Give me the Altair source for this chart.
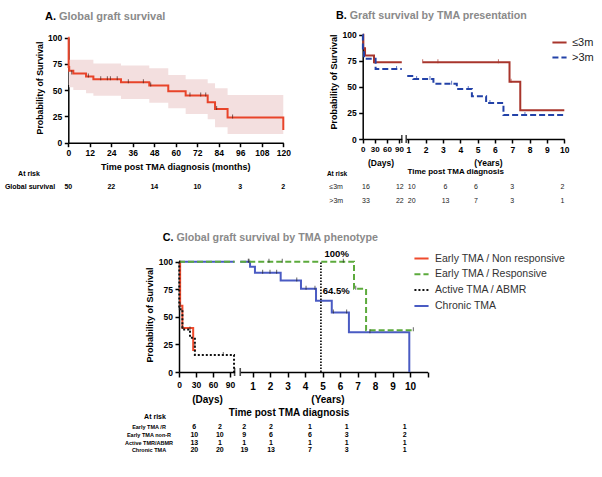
import altair as alt
import pandas as pd

FONT = "Liberation Sans"
W, H = 602, 477
GRAY = "#8a8a8a"

# ---------------- Panel A : global graft survival (months) ----------------
a_time = [0, 0.2, 0.5, 2.8, 9.9, 14, 29.4, 45.2, 55.8, 65.5, 77.8, 81.9, 88.9, 120]
a_surv = [100, 72, 68.5, 66, 63, 60.5, 57.5, 54.5, 49, 45, 38.5, 32, 24, 12]
a_ci_time = [0.2, 0.5, 2.8, 9.9, 14, 29.4, 45.2, 55.8, 65.5, 77.8, 81.9, 88.9, 120]
a_ci_low = [55, 52.8, 50.2, 47, 44.8, 41.6, 38.1, 32.8, 27.3, 22.3, 14.7, 8.3, 8.3]
a_ci_high = [79, 79, 79, 79, 75.5, 73.5, 70.9, 64.5, 60.4, 56.6, 51.8, 45.4, 45.4]
a_cens_time = [1.9, 11.2, 18.1, 21.8, 23.5, 27.3, 33.5, 41.9, 46, 67.9, 73.9, 76.7, 82.8, 91.7]
a_cens_surv = [66, 63, 60.5, 60.5, 60.5, 60.5, 57.5, 57.5, 54.5, 45, 45, 45, 32, 24]
a_ticks = [0, 12, 24, 36, 48, 60, 72, 84, 96, 108, 120]
a_risk_time = [0, 24, 48, 72, 96, 120]
a_risk_n = [50, 22, 14, 10, 3, 2]

# ---------------- Panel B : by TMA presentation ----------------
b_groups = ["≤3m", ">3m"]
b_le_days_t = [0, 1.6, 5.8, 28, 97]
b_le_days_s = [100, 87, 80, 73.5, 73.5]
b_le_yrs_t = [1.83, 6.84, 7.46, 10]
b_le_yrs_s = [73.5, 55, 27.5, 27.5]
b_gt_days_t = [0, 0.5, 3.3, 32, 97]
b_gt_days_s = [100, 85, 77, 67, 67]
b_gt_yrs_t = [0.94, 1.29, 2.45, 3.8, 4.67, 5.49, 6.49, 10]
b_gt_yrs_s = [60.5, 57.5, 53, 48, 41, 34.5, 23, 23]
b_cens_le_days_t = [29]
b_cens_le_days_s = [73.5]
b_cens_le_yrs_t = [1.83, 2.71, 6.2, 6.93]
b_cens_le_yrs_s = [73.5, 73.5, 73.5, 55]
b_cens_gt_days_t = [84]
b_cens_gt_days_s = [67]
b_cens_gt_yrs_t = [1.48, 2.25, 3.5, 4.46, 5.71, 7.73]
b_cens_gt_yrs_s = [57.5, 57.5, 53, 48, 34.5, 23]
b_day_ticks = [0, 30, 60, 90]
b_year_ticks = [1, 2, 3, 4, 5, 6, 7, 8, 9, 10]
b_risk_days = [8, 92]
b_risk_years = [1.2, 3.15, 4.9, 7.0, 9.9]
b_risk_le = [16, 12, 10, 6, 6, 3, 2]
b_risk_gt = [33, 22, 20, 13, 7, 3, 1]

# ---------------- Panel C : by TMA phenotype ----------------
c_groups = ["Early TMA / Non responsive", "Early TMA / Responsive", "Active TMA / ABMR", "Chronic TMA"]
c_red_days_t = [0, 2, 6, 25, 29.5]
c_red_days_s = [100, 60, 40, 20, 20]
c_blk_days_t = [0, 0.5, 6, 19.4, 28, 97]
c_blk_days_s = [100, 57, 38.5, 31, 15.5, 0]
c_grn_days_t = [0, 98]
c_grn_days_s = [100, 100]
c_blu_days_t = [0, 98]
c_blu_days_s = [100, 100]
c_grn_yrs_t = [0.3, 6.8, 7.49, 10.19]
c_grn_yrs_s = [100, 75.4, 37.8, 37.8]
c_blu_yrs_t = [0.3, 0.86, 1.14, 2.61, 3.77, 4.63, 5.53, 6.51, 9.96]
c_blu_yrs_s = [100, 95.5, 90, 83, 75.5, 64.5, 54, 36, 0]
c_cens_blu_t = [0.8, 1.58, 2.0, 2.38, 3.53, 4.06, 4.57, 5.62, 6.38, 7.71]
c_cens_blu_s = [100, 90, 90, 90, 83, 75.5, 75.5, 54, 54, 36]
c_cens_grn_t = [0.76, 1.94, 2.7, 6.19, 6.9, 10.19]
c_cens_grn_s = [100, 100, 100, 100, 75.4, 37.8]
c_cens_blk_t = [0.5, 19.4, 28, 78]
c_cens_blk_s = [57, 38.5, 23, 15.5]
c_cens_red_t = [2, 6]
c_cens_red_s = [60, 40]
c_ref_year = [4.91]
c_day_ticks = [0, 30, 60, 90]
c_year_ticks = [1, 2, 3, 4, 5, 6, 7, 8, 9, 10, 11]
c_risk_rows = ["Early TMA /R", "Early TMA non-R", "Active TMR/ABMR", "Chronic TMA"]
c_risk_days = [27, 72]
c_risk_years = [0.53, 2.06, 4.29, 6.38, 9.7]
c_risk_vals = [
    [6, 2, 2, 2, 1, 1, 1],
    [10, 10, 9, 6, 6, 3, 2],
    [13, 1, 1, 1, 1, 1, 1],
    [20, 20, 19, 13, 7, 3, 1],
]

# ---------------- styling / layout ----------------
A_RED, A_BAND = "#E8442A", "#F3DFDF"
B_RED, B_BLUE = "#A8352C", "#2342A8"
C_COLORS = ["#EF4B2D", "#5CAA3C", "#111111", "#4A5BC3"]
C_DASH = [[1, 0], [6, 3], [2, 2], [1, 0]]

SCALES = {
    "A_x": ([0, 120], [68.3, 283.3]),
    "A_y": ([0, 100], [142.7, 37.7]),
    "Bd_x": ([0, 97], [362.7, 401.8]),
    "By_x": ([0.88, 10], [406.2, 564.3]),
    "B_y": ([0, 100], [139, 34.7]),
    "Cd_x": ([0, 98], [179, 234.6]),
    "Cy_x": ([0.3, 11], [240.25, 427.5]),
    "C_y": ([0, 100], [372, 261.7]),
}


def sc(key):
    d, r = SCALES[key]
    return alt.Scale(domain=d, range=r, nice=False, zero=False)


def xq(field, key, axis=None):
    return alt.X(f"{field}:Q", scale=sc(key), axis=axis)


def yq(field, key, axis=None):
    return alt.Y(f"{field}:Q", scale=sc(key), axis=axis)


def x_axis(values, ypix, size=8.5, pad=2.0, expr=None, tick=4):
    kw = dict(orient="bottom", offset=ypix - H, values=values, title=None, grid=False,
              labelFont=FONT, labelFontSize=size, labelFontWeight="bold", labelColor="black",
              labelPadding=pad, labelFlush=False, labelOverlap=False,
              tickSize=tick, tickWidth=1.5, tickColor="black",
              domainWidth=1.5, domainColor="black")
    if expr:
        kw["labelExpr"] = expr
    return alt.Axis(**kw)


def y_axis(xpix, size=8.5):
    return alt.Axis(orient="left", offset=-xpix, values=[0, 25, 50, 75, 100], title=None, grid=False,
                    labelFont=FONT, labelFontSize=size, labelFontWeight="bold", labelColor="black",
                    labelPadding=2.5, labelFlush=False, labelOverlap=False,
                    tickSize=4, tickWidth=1.5, tickColor="black",
                    domainWidth=1.5, domainColor="black")


def label(text, x, y, size, weight="bold", color="black", align="center", angle=0):
    return alt.Chart(pd.DataFrame({"txt": [text]})).mark_text(
        font=FONT, fontSize=size, fontWeight=weight, color=color, align=align,
        baseline="middle", angle=angle
    ).encode(x=alt.value(x), y=alt.value(y), text="txt:N")


def long_df(series):
    rows = []
    for g, ts, ss in series:
        for t, s in zip(ts, ss):
            rows.append({"group": g, "t": t, "s": s})
    return pd.DataFrame(rows)


def ts_df(ts, ss):
    return pd.DataFrame({"t": ts, "s": ss})


def censor(df, xkey, ykey, color):
    return alt.Chart(df).mark_tick(orient="vertical", size=4, thickness=1, color=color, yOffset=-1).encode(
        x=xq("t", xkey), y=yq("s", ykey))


def break_tick(t, xkey, ykey):
    return alt.Chart(pd.DataFrame({"t": t, "s": [0] * len(t)})).mark_tick(
        orient="vertical", size=8, thickness=1.6, color="black").encode(x=xq("t", xkey), y=yq("s", ykey))


def risk_row(times, counts, xkey, ypix, size=7, weight="bold", color="black"):
    return alt.Chart(pd.DataFrame({"t": times, "n": counts})).mark_text(
        font=FONT, fontSize=size, fontWeight=weight, color=color, baseline="middle"
    ).encode(x=xq("t", xkey), y=alt.value(ypix), text="n:Q")


layers = []

# ======== Panel A ========
layers.append(
    alt.Chart(pd.DataFrame({"t": a_ci_time, "lo": a_ci_low, "hi": a_ci_high}))
    .mark_area(interpolate="step-after", color=A_BAND, opacity=1)
    .encode(x=xq("t", "A_x"), y=yq("lo", "A_y"), y2="hi:Q")
)
layers.append(
    alt.Chart(ts_df(a_time, a_surv))
    .mark_line(interpolate="step-after", color=A_RED, strokeWidth=2)
    .encode(x=xq("t", "A_x", x_axis(a_ticks, 142.7)), y=yq("s", "A_y", y_axis(68.3)))
)
layers.append(censor(ts_df(a_cens_time, a_cens_surv), "A_x", "A_y", "#4a1f18"))
layers.append(risk_row(a_risk_time, a_risk_n, "A_x", 187.3))
layers += [
    label("A.", 45, 16.7, 11, align="left"),
    label("Global graft survival", 59, 16.7, 11, color=GRAY, align="left"),
    label("Probability of Survival", 40, 88, 8.8, angle=270),
    label("Time post TMA diagnosis (months)", 175.7, 166.7, 9),
    label("At risk", 29, 174.3, 7),
    label("Global survival", 30, 187.3, 7),
]

# ======== Panel B ========
b_color = alt.Scale(domain=b_groups, range=[B_RED, B_BLUE])
b_dash = alt.Scale(domain=b_groups, range=[[1, 0], [6, 3]])
b_legend = alt.Legend(orient="none", legendX=551, legendY=34, title=None, labelFont=FONT,
                      labelFontSize=11, labelColor="#222", symbolType="stroke", symbolSize=200,
                      symbolStrokeWidth=2, labelOffset=4, rowPadding=1, padding=0)

b_days_df = long_df([(b_groups[0], b_le_days_t, b_le_days_s), (b_groups[1], b_gt_days_t, b_gt_days_s)])
b_yrs_df = long_df([(b_groups[0], b_le_yrs_t, b_le_yrs_s), (b_groups[1], b_gt_yrs_t, b_gt_yrs_s)])

layers.append(
    alt.Chart(b_days_df).mark_line(interpolate="step-after", strokeWidth=2).encode(
        x=xq("t", "Bd_x", x_axis(b_day_ticks, 139, size=8)),
        y=yq("s", "B_y", y_axis(362.7)),
        color=alt.Color("group:N", scale=b_color, legend=None),
        strokeDash=alt.StrokeDash("group:N", scale=b_dash, legend=None),
    )
)
layers.append(
    alt.Chart(b_yrs_df).mark_line(interpolate="step-after", strokeWidth=2).encode(
        x=xq("t", "By_x", x_axis(b_year_ticks, 139, size=8.5)),
        y=yq("s", "B_y"),
        color=alt.Color("group:N", scale=b_color, legend=b_legend),
        strokeDash=alt.StrokeDash("group:N", scale=b_dash, legend=b_legend),
    )
)
layers.append(censor(ts_df(b_cens_le_days_t, b_cens_le_days_s), "Bd_x", "B_y", B_RED))
layers.append(censor(ts_df(b_cens_le_yrs_t, b_cens_le_yrs_s), "By_x", "B_y", B_RED))
layers.append(censor(ts_df(b_cens_gt_days_t, b_cens_gt_days_s), "Bd_x", "B_y", B_BLUE))
layers.append(censor(ts_df(b_cens_gt_yrs_t, b_cens_gt_yrs_s), "By_x", "B_y", B_BLUE))
layers.append(break_tick([97], "Bd_x", "B_y"))
layers.append(break_tick([0.88], "By_x", "B_y"))
nd = len(b_risk_days)
for row, ypix in ((b_risk_le, 187.3), (b_risk_gt, 201.3)):
    layers.append(risk_row(b_risk_days, row[:nd], "Bd_x", ypix, size=7, weight="normal", color="#222"))
    layers.append(risk_row(b_risk_years, row[nd:], "By_x", ypix, size=7, weight="normal", color="#222"))
layers += [
    label("B.", 336, 15.7, 10.7, align="left"),
    label("Graft survival by TMA presentation", 349.7, 15.7, 10.7, color=GRAY, align="left"),
    label("Probability of Survival", 334.3, 82, 9, angle=270),
    label("(Days)", 381, 163, 8.5),
    label("(Years)", 488.3, 163, 8.5),
    label("Time post TMA diagnosis", 455.7, 172.3, 8),
    label("At risk", 337, 173.7, 6.5),
    label(b_groups[0], 329.3, 187.3, 7, weight="normal", color="#222", align="left"),
    label(b_groups[1], 329.3, 201.3, 7, weight="normal", color="#222", align="left"),
]

# ======== Panel C ========
c_color = alt.Scale(domain=c_groups, range=C_COLORS)
c_dash = alt.Scale(domain=c_groups, range=C_DASH)
c_legend = alt.Legend(orient="none", legendX=413, legendY=250, title=None, labelFont=FONT,
                      labelFontSize=10.5, labelColor="#333", symbolType="stroke", symbolSize=200,
                      symbolStrokeWidth=2, labelOffset=5, rowPadding=1.8, padding=0)

c_days_df = long_df([
    (c_groups[3], c_blu_days_t, c_blu_days_s),
    (c_groups[0], c_red_days_t, c_red_days_s),
    (c_groups[1], c_grn_days_t, c_grn_days_s),
    (c_groups[2], c_blk_days_t, c_blk_days_s),
])
c_yrs_df = long_df([
    (c_groups[3], c_blu_yrs_t, c_blu_yrs_s),
    (c_groups[1], c_grn_yrs_t, c_grn_yrs_s),
])

layers.append(
    alt.Chart(c_days_df).mark_line(interpolate="step-after", strokeWidth=2).encode(
        x=xq("t", "Cd_x", x_axis(c_day_ticks, 372, size=8.5, pad=3, tick=5)),
        y=yq("s", "C_y", y_axis(179)),
        color=alt.Color("group:N", scale=c_color, legend=None),
        strokeDash=alt.StrokeDash("group:N", scale=c_dash, legend=None),
    )
)
layers.append(
    alt.Chart(c_yrs_df).mark_line(interpolate="step-after", strokeWidth=2).encode(
        x=xq("t", "Cy_x", x_axis(c_year_ticks, 372, size=10, pad=4, tick=5,
                                  expr="datum.value == 11 ? '' : datum.value")),
        y=yq("s", "C_y"),
        color=alt.Color("group:N", scale=c_color, legend=c_legend),
        strokeDash=alt.StrokeDash("group:N", scale=c_dash, legend=c_legend),
    )
)
layers.append(
    alt.Chart(pd.DataFrame({"t": c_ref_year, "lo": [0], "hi": [100]}))
    .mark_rule(color="black", strokeWidth=1.6, strokeDash=[1.5, 1.5])
    .encode(x=xq("t", "Cy_x"), y=yq("lo", "C_y"), y2="hi:Q")
)
layers.append(censor(ts_df(c_cens_blu_t, c_cens_blu_s), "Cy_x", "C_y", "#222"))
layers.append(censor(ts_df(c_cens_grn_t, c_cens_grn_s), "Cy_x", "C_y", "#222"))
layers.append(censor(ts_df(c_cens_blk_t, c_cens_blk_s), "Cd_x", "C_y", "#222"))
layers.append(censor(ts_df(c_cens_red_t, c_cens_red_s), "Cd_x", "C_y", "#222"))
layers.append(break_tick([98], "Cd_x", "C_y"))
layers.append(break_tick([0.3], "Cy_x", "C_y"))
nd = len(c_risk_days)
c_row_y = [427, 435, 442.5, 450]
for vals, ypix in zip(c_risk_vals, c_row_y):
    layers.append(risk_row(c_risk_days, vals[:nd], "Cd_x", ypix, size=7))
    layers.append(risk_row(c_risk_years, vals[nd:], "Cy_x", ypix, size=7))
for name, ypix in zip(c_risk_rows, c_row_y):
    layers.append(label(name, 149, ypix, 5.5))
layers += [
    label("C.", 162.7, 237.7, 10.7, align="left"),
    label("Global graft survival by TMA phenotype", 176.4, 237.7, 10.7, color=GRAY, align="left"),
    label("Probability of Survival", 150, 315, 9, angle=270),
    label("(Days)", 207.5, 400, 10),
    label("(Years)", 328, 400, 10),
    label("Time post TMA diagnosis", 289, 412.7, 10),
    label("At risk", 155, 417, 7),
    label("100%", 336.7, 254, 9.5),
    label("64.5%", 322.7, 290.7, 9.5, align="left"),
]

chart = (
    alt.layer(*layers)
    .resolve_scale(x="independent", y="independent", color="independent", strokeDash="independent")
    .properties(width=W, height=H, autosize="none", padding=0, background="white")
    .configure_view(stroke=None)
)

chart.save("out.html", embed_options={"renderer": "svg", "actions": False})
